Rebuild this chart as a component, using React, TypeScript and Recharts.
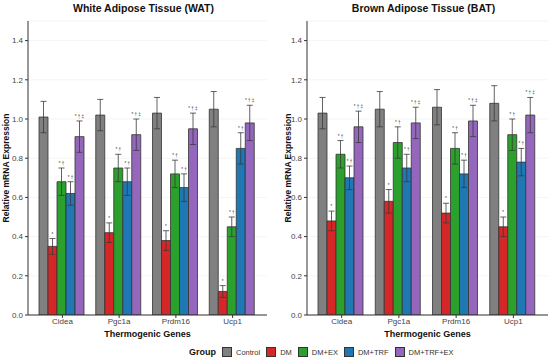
import { Bar, BarChart, CartesianGrid, ErrorBar, LabelList, XAxis, YAxis } from "recharts";

const genes = ["Cidea", "Pgc1a", "Prdm16", "Ucp1"];
const groups = ["Control", "DM", "DM+EX", "DM+TRF", "DM+TRF+EX"];
const colors = ["#808080", "#d62728", "#2ca02c", "#1f77b4", "#9467bd"];
const sigLabels = ["", "*", "* \u2020", "* \u2020", "* \u2020 \u2021"];
const yTicks = [0, 0.2, 0.4, 0.6, 0.8, 1.0, 1.2, 1.4];

// WAT means / SEM per group
const watControl = [1.01, 1.02, 1.03, 1.05];
const watDM = [0.35, 0.42, 0.38, 0.12];
const watEX = [0.68, 0.75, 0.72, 0.45];
const watTRF = [0.62, 0.68, 0.65, 0.85];
const watTRFEX = [0.91, 0.92, 0.95, 0.98];
const watControlErr = [0.08, 0.08, 0.08, 0.09];
const watDMErr = [0.04, 0.05, 0.05, 0.03];
const watEXErr = [0.07, 0.07, 0.07, 0.05];
const watTRFErr = [0.06, 0.07, 0.07, 0.08];
const watTRFEXErr = [0.08, 0.08, 0.08, 0.09];

// BAT means / SEM per group
const batControl = [1.03, 1.05, 1.06, 1.08];
const batDM = [0.48, 0.58, 0.52, 0.45];
const batEX = [0.82, 0.88, 0.85, 0.92];
const batTRF = [0.7, 0.75, 0.72, 0.78];
const batTRFEX = [0.96, 0.98, 0.99, 1.02];
const batControlErr = [0.08, 0.09, 0.09, 0.09];
const batDMErr = [0.05, 0.06, 0.05, 0.05];
const batEXErr = [0.07, 0.08, 0.08, 0.08];
const batTRFErr = [0.06, 0.07, 0.07, 0.07];
const batTRFEXErr = [0.08, 0.08, 0.08, 0.09];

const FONT = '"Liberation Sans", Arial, sans-serif';

function buildRows(values: number[][], errors: number[][]) {
  return genes.map((gene, i) => {
    const row: Record<string, any> = { gene };
    values.forEach((v, g) => {
      row["g" + g] = v[i];
      row["e" + g] = errors[g][i];
    });
    return row;
  });
}

const watRows = buildRows(
  [watControl, watDM, watEX, watTRF, watTRFEX],
  [watControlErr, watDMErr, watEXErr, watTRFErr, watTRFEXErr]
);
const batRows = buildRows(
  [batControl, batDM, batEX, batTRF, batTRFEX],
  [batControlErr, batDMErr, batEXErr, batTRFErr, batTRFEXErr]
);

function makeSigLabel(rows: Record<string, any>[], g: number) {
  return (props: any) => {
    const { x, y, width, height, value, index } = props;
    if (!sigLabels[g] || !value) return null;
    const err = rows[index]["e" + g];
    const pxPerUnit = height / value;
    const top = y - err * pxPerUnit;
    return (
      <text
        x={x + width / 2}
        y={top - 3}
        textAnchor="middle"
        fontSize={4.5}
        fill="#333"
        fontFamily={FONT}
      >
        {sigLabels[g]}
      </text>
    );
  };
}

type PanelProps = {
  title: string;
  rows: Record<string, any>[];
  left: number;
  marginLeft: number;
  marginRight: number;
  labelOffset: number;
};

function Panel({ title, rows, left, marginLeft, marginRight, labelOffset }: PanelProps) {
  const plotLeft = marginLeft + 28;
  const plotRight = 275 - marginRight;
  return (
    <div style={{ position: "absolute", left, top: 0, width: 275, height: 345 }}>
      <div
        style={{
          position: "absolute",
          top: 2,
          left: plotLeft - 6,
          width: plotRight - plotLeft + 4,
          textAlign: "center",
          fontFamily: FONT,
          fontWeight: "bold",
          fontSize: 10.5,
          color: "#111",
        }}
      >
        {title}
      </div>
      <BarChart
        width={275}
        height={345}
        data={rows}
        margin={{ top: 21, right: marginRight, left: marginLeft, bottom: 4 }}
        barCategoryGap={5}
        barGap={0}
      >
        <CartesianGrid vertical={false} stroke="#ececec" strokeWidth={0.6} />
        <XAxis
          dataKey="gene"
          height={26}
          padding={{ left: 6, right: 6 }}
          axisLine={{ stroke: "#333", strokeWidth: 1 }}
          tickLine={{ stroke: "#333" }}
          tickSize={3}
          tickMargin={0}
          tick={{ fill: "#444", fontSize: 8, fontFamily: FONT }}
          interval={0}
          label={{
            value: "Thermogenic Genes",
            position: "insideBottom",
            offset: 4,
            style: { fontWeight: "bold", fontSize: 9, fill: "#111", fontFamily: FONT },
          }}
        />
        <YAxis
          width={28}
          domain={[0, 1.5]}
          ticks={yTicks}
          allowDataOverflow
          axisLine={{ stroke: "#333", strokeWidth: 1 }}
          tickLine={{ stroke: "#333" }}
          tickSize={3}
          tickFormatter={(v: number) => v.toFixed(1)}
          tick={{ fill: "#444", fontSize: 8, fontFamily: FONT }}
          label={{
            value: "Relative mRNA Expression",
            angle: -90,
            position: "insideLeft",
            offset: labelOffset,
            style: { textAnchor: "middle", fontWeight: "bold", fontSize: 8.5, fill: "#111", fontFamily: FONT },
          }}
        />
        {groups.map((name, g) => (
          <Bar
            key={name}
            dataKey={"g" + g}
            name={name}
            fill={colors[g]}
            stroke="#333"
            strokeWidth={0.8}
            isAnimationActive={false}
          >
            <ErrorBar dataKey={"e" + g} width={3} stroke="#3a3a3a" strokeWidth={0.8} direction="y" />
            <LabelList dataKey={"g" + g} content={makeSigLabel(rows, g)} />
          </Bar>
        ))}
      </BarChart>
    </div>
  );
}

function Legend() {
  return (
    <div
      style={{
        position: "absolute",
        top: 347,
        left: 189,
        display: "flex",
        alignItems: "center",
        fontFamily: FONT,
        fontSize: 7.5,
        color: "#333",
      }}
    >
      <span style={{ fontWeight: "bold", fontSize: 9, color: "#111", marginRight: 6 }}>Group</span>
      {groups.map((name, g) => (
        <span key={name} style={{ display: "flex", alignItems: "center", marginRight: 6 }}>
          <span
            style={{
              width: 10,
              height: 10,
              background: colors[g],
              border: "1px solid #333",
              boxSizing: "border-box",
              marginRight: 4,
            }}
          />
          {name}
        </span>
      ))}
    </div>
  );
}

export default function App() {
  return (
    <div style={{ position: "absolute", left: 0, top: 0, width: 550, height: 362, background: "#fff" }}>
      <Panel title="White Adipose Tissue (WAT)" rows={watRows} left={0} marginLeft={0} marginRight={8} labelOffset={6} />
      <Panel title="Brown Adipose Tissue (BAT)" rows={batRows} left={275} marginLeft={4} marginRight={2} labelOffset={9} />
      <Legend />
    </div>
  );
}
